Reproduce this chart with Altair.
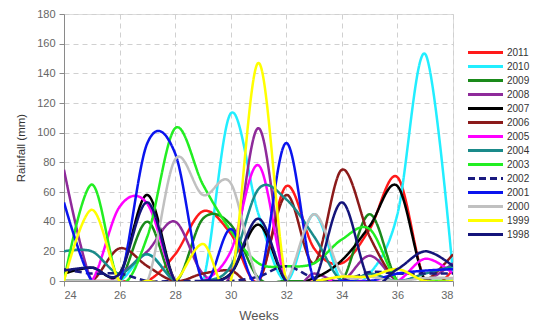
import altair as alt
import pandas as pd

weeks = list(range(24, 39))
years = ["2011", "2010", "2009", "2008", "2007", "2006", "2005",
         "2004", "2003", "2002", "2001", "2000", "1999", "1998"]
colors = ["#ff1a1a", "#22eeff", "#1a8a1a", "#8e2a9a", "#000000", "#8b1a1a", "#ff00ff",
          "#1a8a8a", "#22ee22", "#1a1a80", "#0a14ee", "#c0c0c0", "#ffff00", "#14147a"]

r2011 = [0, 0, 0, 0, 18, 47, 32, 0, 64, 22, 12, 35, 70, 0, 8]
r2010 = [0, 0, 0, 18, 0, 0, 113, 45, 0, 45, 0, 5, 45, 153, 5]
r2009 = [0, 0, 0, 40, 0, 42, 38, 2, 0, 0, 0, 45, 0, 0, 0]
r2008 = [75, 0, 5, 20, 40, 5, 5, 103, 0, 5, 0, 17, 0, 0, 12]
r2007 = [5, 9, 5, 58, 0, 0, 5, 38, 0, 2, 14, 37, 64, 0, 0]
r2006 = [0, 0, 22, 10, 0, 5, 7, 0, 58, 12, 75, 30, 0, 0, 18]
r2005 = [0, 0, 50, 52, 0, 0, 20, 78, 0, 0, 0, 0, 0, 15, 5]
r2004 = [20, 20, 5, 18, 0, 0, 10, 62, 55, 30, 0, 5, 0, 5, 10]
r2003 = [0, 65, 0, 30, 103, 65, 34, 12, 10, 12, 28, 35, 0, 0, 0]
r2002 = [8, 5, 5, 0, 0, 0, 0, 3, 10, 2, 0, 6, 5, 5, 5]
r2001 = [53, 0, 0, 93, 86, 0, 35, 0, 93, 0, 0, 0, 5, 7, 8]
r2000 = [0, 0, 0, 0, 82, 58, 66, 0, 0, 45, 5, 3, 0, 2, 2]
r1999 = [0, 48, 0, 0, 0, 25, 0, 147, 0, 0, 3, 3, 8, 0, 0]
r1998 = [7, 9, 5, 53, 0, 0, 5, 42, 0, 0, 53, 0, 8, 20, 10]

series = [r2011, r2010, r2009, r2008, r2007, r2006, r2005,
          r2004, r2003, r2002, r2001, r2000, r1999, r1998]

rows = []
for yr, vals in zip(years, series):
    for w, v in zip(weeks, vals):
        rows.append({"year": yr, "week": w, "rain": v})
df = pd.DataFrame(rows)

dashes = [[1, 0]] * len(years)
dashes[years.index("2002")] = [7, 4]

legend_kw = dict(
    title=None, orient="none", legendX=415, legendY=32,
    symbolType="M-3.5,0H3.5", symbolSize=100, symbolStrokeWidth=3,
    labelFontSize=10, labelColor="#333333", labelFont="Liberation Sans",
    rowPadding=1, padding=0, labelOffset=15,
)

chart = alt.Chart(df).mark_line(
    interpolate="cardinal", strokeWidth=2.5, clip=True
).encode(
    x=alt.X("week:Q",
            scale=alt.Scale(domain=[24, 38], nice=False, zero=False),
            axis=alt.Axis(values=list(range(24, 39, 2)), title="Weeks",
                          format="d", grid=True, gridDash=[5, 4],
                          gridColor="#d0d0d0", domainColor="#8a8a8a",
                          tickColor="#8a8a8a", tickSize=5,
                          labelFontSize=11, labelColor="#666666",
                          labelPadding=3, titleFontSize=13,
                          titleFontWeight="normal", titleColor="#555555",
                          titlePadding=9, labelFont="Liberation Sans",
                          titleFont="Liberation Sans")),
    y=alt.Y("rain:Q",
            scale=alt.Scale(domain=[0, 180], nice=False),
            axis=alt.Axis(values=list(range(0, 181, 20)), title="Rainfall (mm)",
                          grid=True, gridDash=[5, 4], gridColor="#d0d0d0",
                          domainColor="#8a8a8a", tickColor="#8a8a8a",
                          tickSize=5, labelFontSize=11, labelColor="#666666",
                          labelPadding=4, titleFontSize=11.5,
                          titleFontWeight="normal", titleColor="#333333",
                          titlePadding=10, labelFont="Liberation Sans",
                          titleFont="Liberation Sans")),
    color=alt.Color("year:N", sort=years,
                    scale=alt.Scale(domain=years, range=colors),
                    legend=alt.Legend(**legend_kw)),
    strokeDash=alt.StrokeDash("year:N", sort=years,
                              scale=alt.Scale(domain=years, range=dashes),
                              legend=alt.Legend(**legend_kw)),
).properties(
    width=389, height=267,
    autosize=alt.AutoSizeParams(type="none"),
    padding={"left": 56, "top": 6, "right": 78, "bottom": 44},
).configure_view(
    stroke="#8a8a8a", strokeWidth=1
).configure(background="white")

chart.save("out.html", embed_options={"renderer": "svg", "actions": False})
